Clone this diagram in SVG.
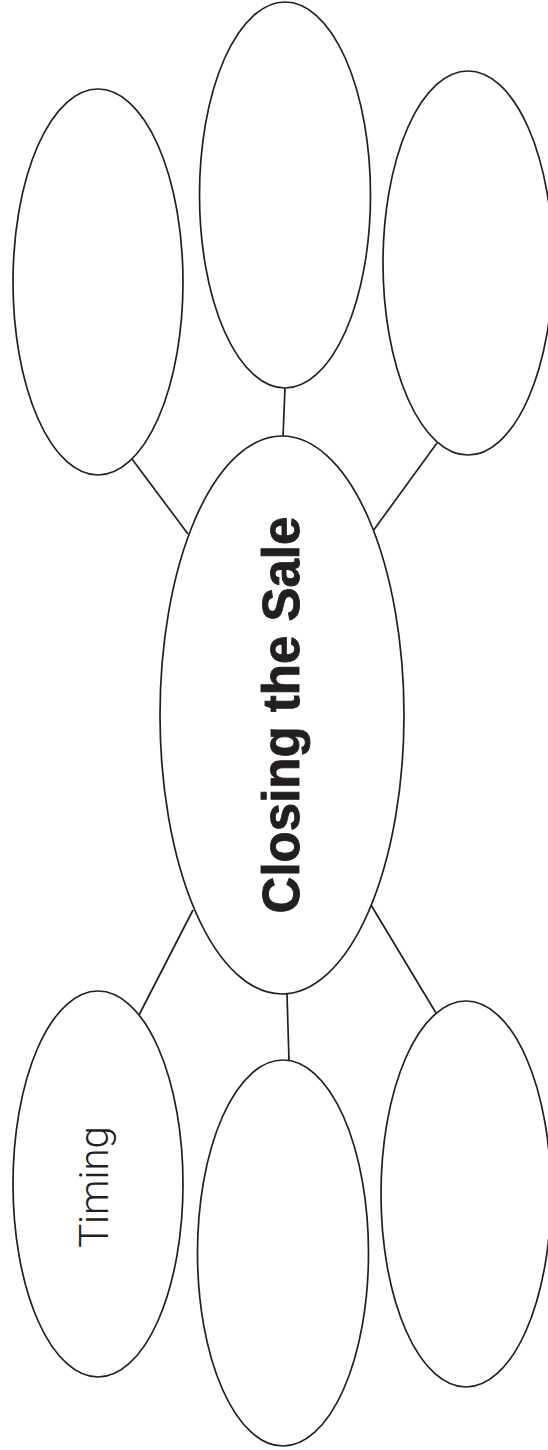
<svg xmlns="http://www.w3.org/2000/svg" width="548" height="1450" viewBox="0 0 548 1450">
<style>
.n{fill:#fff;stroke:#231f20;stroke-width:1.7}
.c line{stroke:#231f20;stroke-width:1.7}
.t{fill:#231f20;text-anchor:middle}
.main{font-family:"Liberation Sans",Arial,sans-serif;font-weight:bold;font-size:51px;stroke:#231f20;stroke-width:0.9}
.sub{font-family:Roboto,"Liberation Sans",sans-serif;font-weight:300;font-size:40px}
</style>
<rect width="548" height="1450" fill="#fff"/>
<g class="c" id="connectors">
<line x1="132" y1="459" x2="188" y2="534"/>
<line x1="285" y1="388" x2="283" y2="437"/>
<line x1="437" y1="443" x2="373" y2="531"/>
<line x1="193" y1="910" x2="139" y2="1015"/>
<line x1="287" y1="994" x2="289" y2="1061"/>
<line x1="371" y1="905" x2="436" y2="1013"/>
</g>
<g id="center">
<ellipse class="n" cx="282" cy="715" rx="122" ry="279"/>
<text class="t main" x="299" y="715" transform="rotate(-90 299 715)">Closing the Sale</text>
</g>
<g id="top-left"><ellipse class="n" cx="98" cy="282" rx="85" ry="193"/></g>
<g id="top-middle"><ellipse class="n" cx="285" cy="195" rx="85.5" ry="193"/></g>
<g id="top-right"><ellipse class="n" cx="468" cy="263" rx="85" ry="192"/></g>
<g id="bottom-left">
<ellipse class="n" cx="98" cy="1184" rx="85" ry="193"/>
<text class="t sub" x="108" y="1187" transform="rotate(-90 108 1187)">Timing</text>
</g>
<g id="bottom-middle"><ellipse class="n" cx="283" cy="1253" rx="85.5" ry="193"/></g>
<g id="bottom-right"><ellipse class="n" cx="466" cy="1194" rx="85" ry="193"/></g>
</svg>
